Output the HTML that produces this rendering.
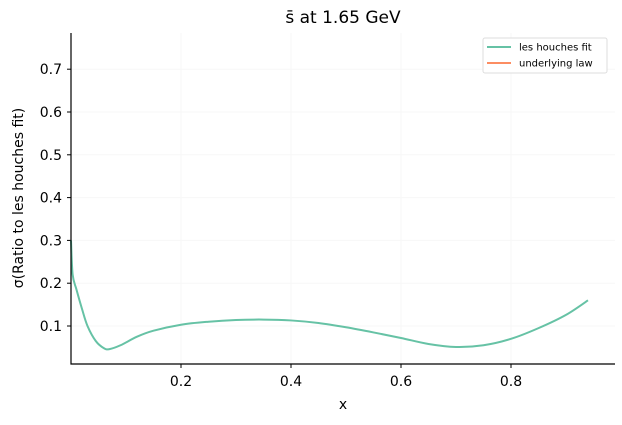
<!DOCTYPE html>
<html><head><meta charset="utf-8"><style>
body{margin:0;background:#fff;font-family:"Liberation Sans","DejaVu Sans",sans-serif}
svg text{font-family:"DejaVu Sans","Liberation Sans",sans-serif}
</style></head><body>
<svg id="c" width="622" height="420"></svg>
<script>
const xs=[0.0,0.003,0.01,0.02,0.03,0.045,0.06,0.07,0.09,0.12,0.15,0.2,0.25,0.3,0.35,0.4,0.45,0.5,0.55,0.6,0.65,0.7,0.75,0.8,0.85,0.9,0.94];
const fitVals=[0.3,0.22,0.185,0.14,0.10,0.065,0.048,0.046,0.055,0.075,0.089,0.103,0.110,0.114,0.115,0.113,0.107,0.097,0.085,0.072,0.058,0.051,0.055,0.07,0.095,0.126,0.16];
const xTicks=[0.2,0.4,0.6,0.8];
const yTicks=[0.1,0.2,0.3,0.4,0.5,0.6,0.7];
const L=71,R=615,T=33,B=364;
const X=v=>71+v*550;
const Y=v=>368.8-v*428;
const svg=document.getElementById('c');
const NS='http://www.w3.org/2000/svg';
function mk(t,a,p){const e=document.createElementNS(NS,t);for(const k in a)e.setAttribute(k,a[k]);(p||svg).appendChild(e);return e;}
xTicks.forEach(v=>{
const g=mk('line',{x1:X(v),x2:X(v),y1:T,y2:B,stroke:'#f7f7f7','stroke-width':1});


const t=mk('line',{x1:X(v),x2:X(v),y1:B,y2:B+4,stroke:'#000'});


const l=mk('text',{x:X(v),y:B+22,'text-anchor':'middle','font-size':14});l.textContent=v.toFixed(1);


});
yTicks.forEach(v=>{
const g=mk('line',{x1:L,x2:R,y1:Y(v),y2:Y(v),stroke:'#f7f7f7','stroke-width':1});


const t=mk('line',{x1:L-4,x2:L,y1:Y(v),y2:Y(v),stroke:'#000'});


const l=mk('text',{x:L-9,y:Y(v)+5,'text-anchor':'end','font-size':14});l.textContent=v.toFixed(1);


});
const P=xs.map((x,i)=>[X(x),Y(fitVals[i])]);
let d='M'+P[0][0]+','+P[0][1];
for(let i=0;i<P.length-1;i++){const p0=P[i-1]||P[i],p1=P[i],p2=P[i+1],p3=P[i+2]||p2;
d+=`C${p1[0]+(p2[0]-p0[0])/6},${p1[1]+(p2[1]-p0[1])/6} ${p2[0]-(p3[0]-p1[0])/6},${p2[1]-(p3[1]-p1[1])/6} ${p2[0]},${p2[1]}`;}
const ln=mk('path',{d:d,fill:'none',stroke:'#66c2a5','stroke-width':2,'stroke-linejoin':'round'});


const ax=mk('path',{d:`M${L},${T}V${B}H${R}`,fill:'none',stroke:'#000','stroke-width':1.2});


</script>
<svg width="622" height="420" style="position:absolute;left:0;top:0">
<text x="343" y="23" text-anchor="middle" font-size="17">s̄ at 1.65 GeV</text>
<text x="343" y="409" text-anchor="middle" font-size="14">x</text>
<text transform="translate(23,198) rotate(-90)" text-anchor="middle" font-size="14">σ(Ratio to les houches fit)</text>
<g>
<rect x="483" y="38" width="124" height="35" rx="2" fill="#fff" stroke="#ddd"/>
<line x1="487" x2="511" y1="47" y2="47" stroke="#66c2a5" stroke-width="2"/>
<text x="519" y="50.5" font-size="10">les houches fit</text>
<line x1="487" x2="511" y1="63" y2="63" stroke="#fc8d62" stroke-width="2"/>
<text x="519" y="66.5" font-size="10">underlying law</text>
</g>
</svg>
</body></html>
